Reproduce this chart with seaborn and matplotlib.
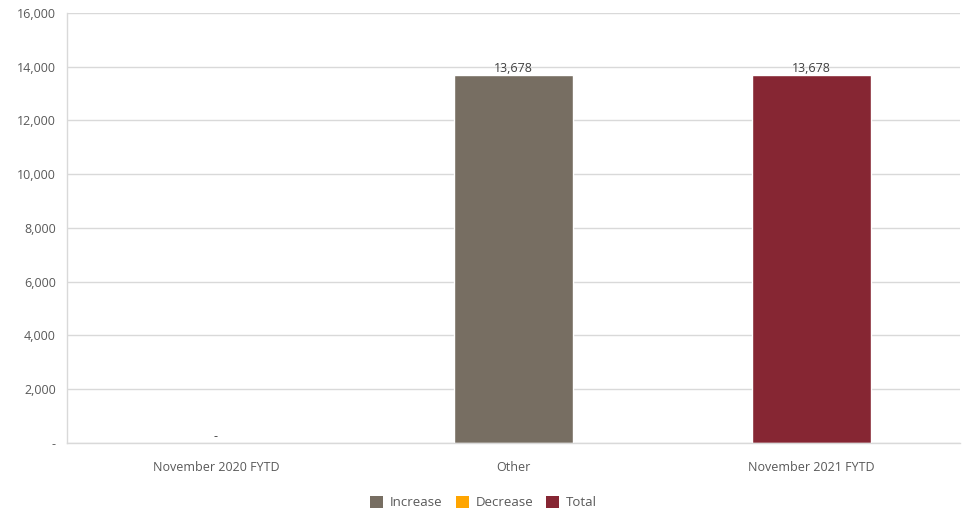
import pandas as pd
import matplotlib.pyplot as plt
import seaborn as sns
from matplotlib.patches import Patch
from matplotlib.ticker import FuncFormatter

# Data
categories = ['November 2020 FYTD', 'Other', 'November 2021 FYTD']
values = [0, 13678, 13678]
kinds = ['Total', 'Increase', 'Total']
legend_names = ['Increase', 'Decrease', 'Total']
palette = {'Increase': '#776E62', 'Decrease': '#FFA500', 'Total': '#862633'}

df = pd.DataFrame({'Category': categories, 'Value': values, 'Kind': kinds})

sns.set_theme(style='white')
plt.rcParams['font.family'] = ['Open Sans', 'DejaVu Sans']
text_color = '#595959'

fig = plt.figure(figsize=(9.67, 5.12), dpi=100)
ax = fig.add_axes([0.0693, 0.1348, 0.9235, 0.8398])

sns.barplot(data=df, x='Category', y='Value', hue='Kind', palette=palette,
            dodge=False, width=0.4, ax=ax, legend=False, saturation=1)

ax.set_ylim(0, 16000)
ax.set_xlim(-0.5, 2.5)
ax.set_yticks(range(0, 16001, 2000))
ax.yaxis.set_major_formatter(FuncFormatter(lambda v, p: '-' if v == 0 else f'{int(v):,}'))
ax.grid(axis='y', color='#D9D9D9', linewidth=1)
ax.set_axisbelow(True)
ax.set_xlabel('')
ax.set_ylabel('')
for s in ['top', 'right']:
    ax.spines[s].set_visible(False)
for s in ['left', 'bottom']:
    ax.spines[s].set_color('#D9D9D9')
    ax.spines[s].set_linewidth(1)
ax.tick_params(axis='both', colors=text_color, labelsize=9, length=0)
ax.tick_params(axis='x', pad=13)
ax.tick_params(axis='y', pad=8)

# Data labels
for i, v in enumerate(values):
    label = '-' if v == 0 else f'{v:,}'
    ax.text(i, v + 10, label, ha='center', va='bottom', fontsize=9, color='#404040')

handles = [Patch(facecolor=palette[n], edgecolor='none') for n in legend_names]
fig.legend(handles, legend_names, loc='lower center', ncol=3, frameon=False,
           bbox_to_anchor=(0.5, -0.018), fontsize=9.5, handlelength=1.0, handleheight=1.0,
           handletextpad=0.5, columnspacing=1.0, labelcolor=text_color)

fig.savefig('out.png', dpi=100)
